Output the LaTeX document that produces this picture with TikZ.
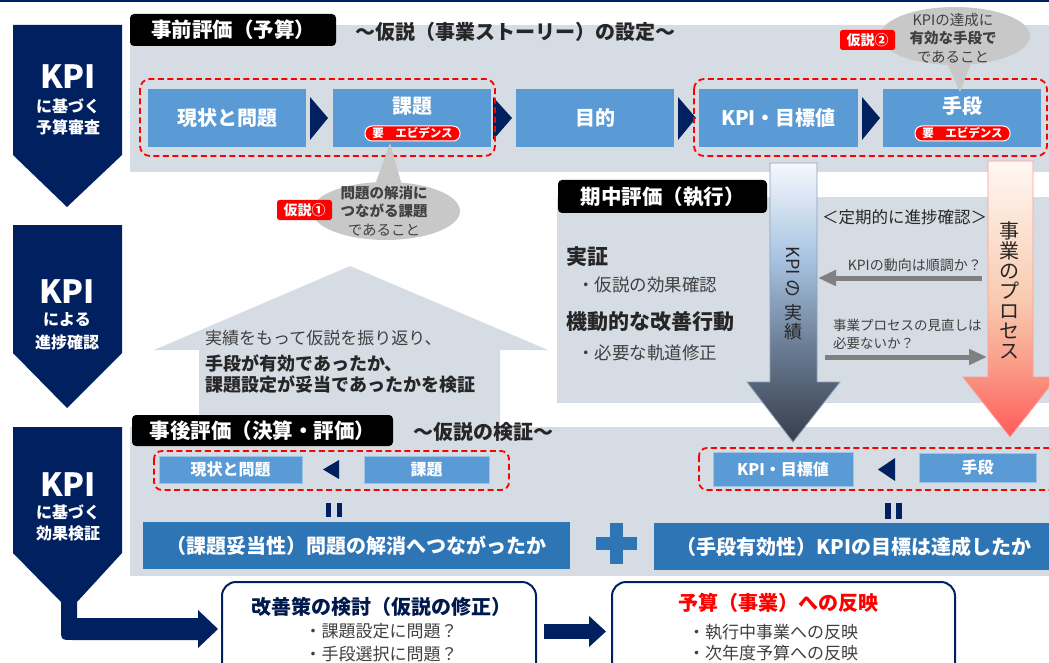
\documentclass[tikz,border=0pt]{standalone}
\usepackage{fontspec}
\setmainfont{Noto Sans CJK JP}
\usetikzlibrary{arrows.meta,shapes.geometric}
\definecolor{navy}{RGB}{0,32,96}
\definecolor{boxblue}{RGB}{91,155,213}
\definecolor{barblue}{RGB}{46,117,182}
\definecolor{panel}{RGB}{214,220,228}
\definecolor{cgray}{RGB}{200,200,200}
\definecolor{txt}{RGB}{38,38,38}
\definecolor{txtg}{RGB}{64,64,64}
\definecolor{arrgray}{RGB}{128,128,128}
\definecolor{kd}{RGB}{54,62,74}
\definecolor{km}{RGB}{106,124,148}
\definecolor{kl}{RGB}{168,196,226}
\definecolor{kw}{RGB}{245,248,252}
\definecolor{kborder}{RGB}{140,160,185}
\definecolor{pd}{RGB}{255,90,90}
\definecolor{pm}{RGB}{250,156,136}
\definecolor{pl}{RGB}{248,203,176}
\definecolor{pw}{RGB}{255,248,243}
\definecolor{pborder}{RGB}{255,155,155}
\pgfdeclareverticalshading{kpish}{100bp}{color(0bp)=(kd); color(25bp)=(kd); color(42bp)=(km); color(58bp)=(kl); color(75bp)=(kw); color(100bp)=(kw)}
\pgfdeclareverticalshading{procsh}{100bp}{color(0bp)=(pd); color(25bp)=(pd); color(38bp)=(pm); color(50bp)=(pl); color(75bp)=(pw); color(100bp)=(pw)}
\newcommand\fsz[1]{\fontsize{#1}{#1}\selectfont}
\begin{document}
\begin{tikzpicture}[x=1pt,y=-1pt,
  blackbox/.style={fill=black, rounded corners=4pt, text=white, font=\bfseries\fsz{20.5}, inner sep=0pt},
  title/.style={text=txt, font=\bfseries\fsz{20}, inner sep=0pt},
  bluebox/.style={fill=boxblue, text=white, font=\bfseries\fsz{20}, inner sep=0pt},
  smallbox/.style={fill=boxblue, draw=boxblue!60!white, line width=0.6pt, text=white, font=\bfseries\fsz{16}, inner sep=0pt},
  bar/.style={fill=barblue, text=white, font=\bfseries\fsz{20}, inner sep=0pt},
  reddash/.style={draw=red, line width=1.8pt, dash pattern=on 6pt off 3.5pt, rounded corners=10pt},
  badge/.style={fill=red, draw=white, line width=1pt, rounded corners=7pt, text=white, font=\bfseries\fsz{11.5}, inner sep=0pt},
  hyp/.style={fill=red, rounded corners=2.5pt, text=white, font=\bfseries\fsz{14}, inner sep=0pt},
  callout/.style={ellipse, fill=cgray, inner sep=0pt},
  ctext/.style={text=txtg, align=center, font=\fontsize{14.5}{18.5}\selectfont, inner sep=0pt},
  penttext/.style={text=white, font=\bfseries\fsz{16}, inner sep=0pt},
  kpitext/.style={text=white, font=\bfseries\fsz{32}, inner sep=0pt},
  outbox/.style={draw=navy, line width=2pt, fill=white, rounded corners=14pt, inner sep=0pt},
  garrow/.style={draw=arrgray, line width=5pt, -{Triangle[length=18pt,width=15pt]}},
  mtext/.style={text=txtg, font=\fsz{17.5}, inner sep=0pt, anchor=west},
  mhead/.style={text=txt, font=\bfseries\fsz{21}, inner sep=0pt, anchor=west},
  stext/.style={text=txtg, font=\fsz{14}, inner sep=0pt}
]
\useasboundingbox (0,0) rectangle (1049,663);
% top line
\fill[navy] (0,0) rectangle (1049,2.5);
% panels
\fill[panel] (130,25) rectangle (1049,172);
\fill[panel] (557,197) rectangle (1049,403);
\fill[panel] (199,432) -- (199,350) -- (154,350) -- (350,266) -- (548,350) -- (500,350) -- (500,432) -- cycle;
\fill[panel] (130,427) rectangle (1049,576);
% left pentagons
\fill[navy] (13,25) -- (122,25) -- (122,155) -- (67,207) -- (13,155) -- cycle;
\fill[navy] (13,225) -- (122,225) -- (122,353) -- (67,408) -- (13,353) -- cycle;
\fill[navy] (13,427) -- (122,427) -- (122,553) -- (77,602) -- (77,618) -- (198,618) -- (198,610) -- (218,629)
  -- (198,648) -- (198,640) -- (73,640) .. controls (61,640) .. (61,628) -- (61,602) -- (13,553) -- cycle;
\node[kpitext] (k1) at (68,77) {KPI};
\node[penttext] (k1a) at (68,106) {に基づく};
\node[penttext] (k1b) at (68,127) {予算審査};
\node[kpitext] (k2) at (67,292) {KPI};
\node[penttext] (k2a) at (67,320) {による};
\node[penttext] (k2b) at (67,342) {進捗確認};
\node[kpitext] (k3) at (68,485) {KPI};
\node[penttext] (k3a) at (68,512) {に基づく};
\node[penttext] (k3b) at (68,533) {効果検証};
% labels
\node[blackbox, minimum width=206, minimum height=32] (l1) at (233,30) {事前評価（予算）};
\node[title] (t1) at (515.5,32) {～仮説（事業ストーリー）の設定～};
\node[blackbox, minimum width=209, minimum height=33] (l2) at (662.5,196.5) {期中評価（執行）};
\node[blackbox, minimum width=261, minimum height=31] (l3) at (262.5,430.5) {事後評価（決算・評価）};
\node[title] (t3) at (483,432) {～仮説の検証～};
% top boxes
\node[bluebox, minimum width=158, minimum height=58] (b1) at (227,118) {現状と問題};
\node[bluebox, minimum width=158, minimum height=58] (b2) at (412,118) {};
\node[bluebox] (b2t) at (412,106) {課題};
\node[badge, minimum width=95, minimum height=15] (e1) at (412.5,133.5) {要\quad エビデンス};
\node[bluebox, minimum width=158, minimum height=58] (b3) at (595,118) {目的};
\node[bluebox, minimum width=159, minimum height=58] (b4) at (778.5,118) {KPI・目標値};
\node[bluebox, minimum width=158, minimum height=58] (b5) at (962,118) {};
\node[bluebox] (b5t) at (962,106) {手段};
\node[badge, minimum width=95, minimum height=15] (e2) at (962.5,133.5) {要\quad エビデンス};
\fill[navy] (310,97) -- (328,118) -- (310,140) -- cycle;
\fill[navy] (493,97) -- (512,118) -- (493,140) -- cycle;
\fill[navy] (678,97) -- (696,118) -- (678,140) -- cycle;
\fill[navy] (862,97) -- (880,118) -- (862,140) -- cycle;
\draw[reddash] (140,79) rectangle (495,156);
\draw[reddash] (694,79) rectangle (1047,156);
% callouts
\fill[cgray] (371,196) -- (390,143) -- (405,196) -- cycle;
\node[callout, minimum width=148, minimum height=58] (c1) at (386,211) {};
\node[ctext] (c1t) at (384,211) {{\bfseries 問題の解消に}\\{\bfseries つながる課題}\\であること};
\node[hyp, minimum width=55, minimum height=20] (h1) at (304.5,210) {仮説①};
\fill[cgray] (941,50) -- (960,92) -- (976,50) -- cycle;
\node[callout, minimum width=150, minimum height=58] (c2) at (955,36) {};
\node[ctext] (c2t) at (953,38) {KPIの達成に\\{\bfseries 有効な手段で}\\であること};
\node[hyp, minimum width=55, minimum height=20] (h2) at (867.5,40) {仮説②};
% vertical arrows
\shadedraw[shading=kpish, draw=kborder, line width=0.8pt] (770,163) -- (817,163) -- (817,382) -- (840,382) -- (793,442) -- (747,382) -- (770,382) -- cycle;
\shadedraw[shading=procsh, draw=pborder, line width=0.8pt] (988,161) -- (1033,161) -- (1033,377) -- (1057,377) -- (1010,437) -- (963,377) -- (988,377) -- cycle;
\node[text=txt, font=\fsz{18}, rotate=-90, inner sep=0pt] (kv1) at (793,272) {KPI の};
\node[text=txt, font=\fontsize{18}{19}\selectfont, align=center, inner sep=0pt] (kv2) at (793,322) {実\\績};
\node[text=txt, font=\fontsize{20}{20}\selectfont, align=center, inner sep=0pt] (pv) at (1009,290) {事\\業\\の\\プ\\ロ\\セ\\ス};
% middle panel texts
\node[text=txt, font=\fsz{16.5}, inner sep=0pt] (per) at (904.5,217) {＜定期的に進捗確認＞};
\node[mhead] (m1) at (566,257) {実証};
\node[mtext] (m2) at (577,285) {・仮説の効果確認};
\node[mhead] (m3) at (566,322) {機動的な改善行動};
\node[mtext] (m4) at (577,353) {・必要な軌道修正};
\node[stext, anchor=east] (q1) at (982,265) {KPIの動向は順調か？};
\node[stext, anchor=west, align=left, font=\fontsize{13.5}{18}\selectfont] (q2) at (833,334) {事業プロセスの見直しは\\必要ないか？};
\coordinate (g1s) at (982,278);
\coordinate (g1e) at (818,278);
\coordinate (g2s) at (825,357);
\coordinate (g2e) at (987,357);
\draw[garrow] (g1s) -- (g1e);
\draw[garrow] (g2s) -- (g2e);
% up arrow text
\node[text=txtg, font=\fsz{17}, inner sep=0pt, anchor=west] (u1) at (205,338) {実績をもって仮説を振り返り、};
\node[text=txt, font=\bfseries\fsz{18}, inner sep=0pt, anchor=west] (u2) at (205,363) {手段が有効であったか、};
\node[text=txt, font=\bfseries\fsz{18}, inner sep=0pt, anchor=west] (u3) at (205,385) {課題設定が妥当であったかを検証};
% bottom panel
\draw[reddash, rounded corners=8pt] (154,451) rectangle (509,490);
\draw[reddash, rounded corners=8pt] (699,448) rectangle (1060,490);
\node[smallbox, minimum width=143, minimum height=27] (s1) at (230.5,469.5) {現状と問題};
\node[smallbox, minimum width=125, minimum height=27] (s2) at (426.5,469.5) {課題};
\fill[navy] (339,460) -- (339,479) -- (323,469.5) -- cycle;
\node[smallbox, minimum width=140, minimum height=34] (s3) at (783,469) {KPI・目標値};
\node[smallbox, minimum width=117, minimum height=29] (s4) at (977.5,467.5) {手段};
\fill[navy] (895,458) -- (895,481) -- (878,469.5) -- cycle;
\fill[navy] (326,503) rectangle (331,517);
\fill[navy] (337,503) rectangle (342,517);
\fill[navy] (885,503) rectangle (891,519);
\fill[navy] (896,503) rectangle (902,519);
\node[bar, minimum width=427, minimum height=47] (v1) at (356.5,545.5) {（課題妥当性）問題の解消へつながったか};
\node[bar, minimum width=400, minimum height=47] (v2) at (854,546.5) {（手段有効性）KPIの目標は達成したか};
\fill[barblue] (596,537) rectangle (637,550);
\fill[barblue] (610,523) rectangle (623,564);
% bottom boxes
\node[outbox, minimum width=314, minimum height=99] (o1) at (379,631.5) {};
\node[outbox, minimum width=343, minimum height=99] (o2) at (783.5,631.5) {};
\draw[navy, line width=15pt, -{Triangle[length=17pt,width=30pt]}, shorten <=7pt, shorten >=5pt] (o1.east) -- (o2.west);
\node[text=navy!80!black, font=\bfseries\fsz{20}, inner sep=0pt] (o1t) at (381,607) {改善策の検討（仮説の修正）};
\node[text=txtg, font=\fsz{17}, inner sep=0pt] (o1a) at (381,631) {・課題設定に問題？};
\node[text=txtg, font=\fsz{17}, inner sep=0pt] (o1b) at (381,654) {・手段選択に問題？};
\node[text=red, font=\bfseries\fsz{20}, inner sep=0pt] (o2t) at (778,603) {予算（事業）への反映};
\node[text=txtg, font=\fsz{17}, inner sep=0pt] (o2a) at (773,632) {・執行中事業への反映};
\node[text=txtg, font=\fsz{17}, inner sep=0pt] (o2b) at (773,653) {・次年度予算への反映};
\end{tikzpicture}
\end{document}
